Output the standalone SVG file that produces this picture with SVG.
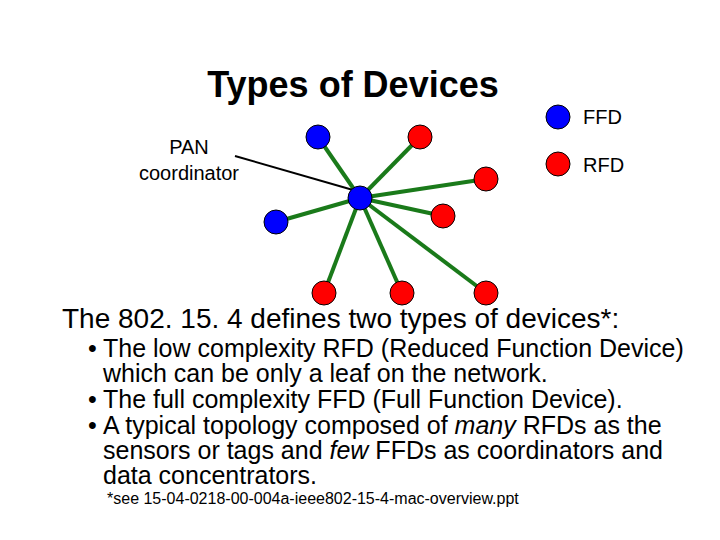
<svg xmlns="http://www.w3.org/2000/svg" width="720" height="540" viewBox="0 0 720 540">
<style>
text{font-family:"Liberation Sans",Arial,sans-serif;fill:#000}
.b{fill:#0000ff;stroke:#000;stroke-width:1}
.r{fill:#ff0000;stroke:#000;stroke-width:1}
.l{stroke:#1a7a1a;stroke-width:4}
.t{font-size:25px}
</style>
<rect width="720" height="540" fill="#fff"/>
<text x="353" y="97" font-size="36" font-weight="bold" text-anchor="middle">Types of Devices</text>
<g id="connectors">
<line class="l" x1="360" y1="198" x2="318" y2="137"/>
<line class="l" x1="360" y1="198" x2="420" y2="137"/>
<line class="l" x1="360" y1="198" x2="486" y2="179"/>
<line class="l" x1="360" y1="198" x2="443" y2="216"/>
<line class="l" x1="360" y1="198" x2="276" y2="222"/>
<line class="l" x1="360" y1="198" x2="324" y2="293"/>
<line class="l" x1="360" y1="198" x2="402" y2="293"/>
<line class="l" x1="360" y1="198" x2="486" y2="293"/>
<line x1="235" y1="156" x2="360" y2="192" stroke="#000" stroke-width="2"/>
</g>
<g id="n1"><circle class="b" cx="318" cy="137" r="12"/></g>
<g id="n2"><circle class="r" cx="420" cy="137" r="12"/></g>
<g id="n3"><circle class="r" cx="486" cy="179" r="12"/></g>
<g id="n4"><circle class="r" cx="443" cy="216" r="12"/></g>
<g id="n5"><circle class="b" cx="276" cy="222" r="12"/></g>
<g id="n6"><circle class="r" cx="324" cy="293" r="12"/></g>
<g id="n7"><circle class="r" cx="402" cy="293" r="12"/></g>
<g id="n8"><circle class="r" cx="486" cy="293" r="12"/></g>
<g id="center"><circle class="b" cx="360" cy="198" r="12"/></g>
<g id="pan"><text x="189" y="154" font-size="20" text-anchor="middle">PAN</text><text x="189" y="180" font-size="20" text-anchor="middle">coordinator</text></g>
<g id="legend-ffd"><circle class="b" cx="558" cy="117" r="12"/><text x="583" y="124" font-size="20">FFD</text></g>
<g id="legend-rfd"><circle class="r" cx="558" cy="164" r="12"/><text x="583" y="172" font-size="20">RFD</text></g>
<text x="62" y="328" font-size="28">The 802. 15. 4 defines two types of devices*:</text>
<text x="88" y="357" class="t">•</text><text x="103" y="357" class="t">The low complexity RFD (Reduced Function Device)</text>
<text x="103" y="382" class="t">which can be only a leaf on the network.</text>
<text x="88" y="408" class="t">•</text><text x="103" y="408" class="t">The full complexity FFD (Full Function Device).</text>
<text x="88" y="434" class="t">•</text><text x="103" y="434" class="t">A typical topology composed of <tspan font-style="italic">many</tspan> RFDs as the</text>
<text x="103" y="459" class="t">sensors or tags and <tspan font-style="italic">few</tspan> FFDs as coordinators and</text>
<text x="103" y="484" class="t">data concentrators.</text>
<text x="107" y="504" font-size="16">*see 15-04-0218-00-004a-ieee802-15-4-mac-overview.ppt</text>
</svg>
